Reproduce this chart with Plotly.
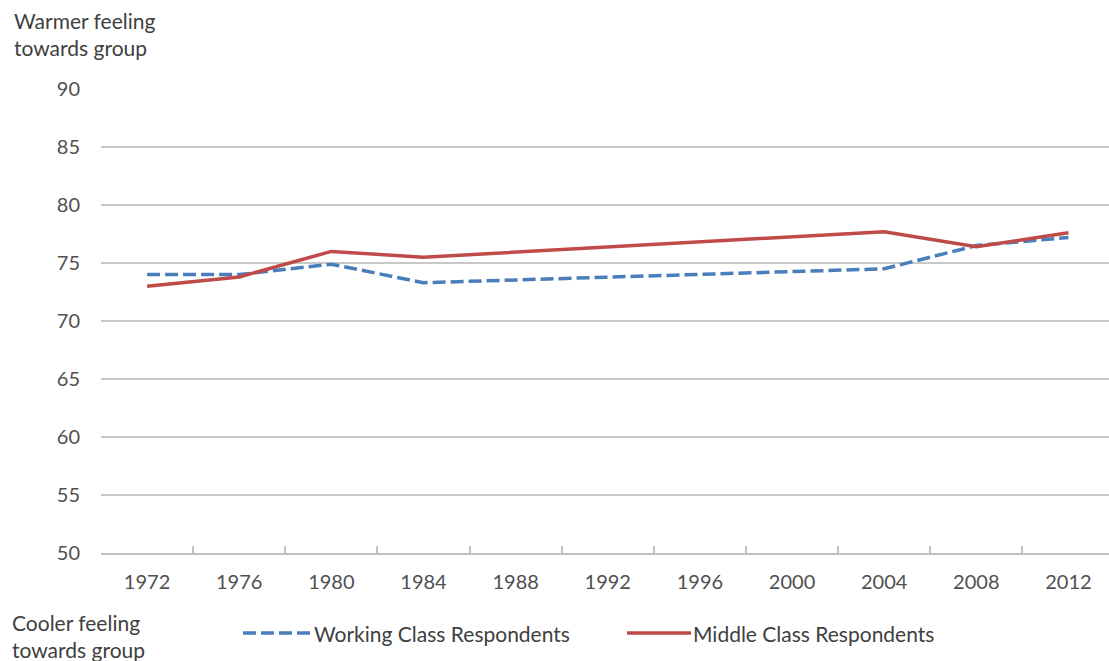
import plotly.graph_objects as go

# Survey years on the category axis
years = ["1972", "1976", "1980", "1984", "1988", "1992", "1996",
         "2000", "2004", "2008", "2012"]

# Mean feeling-thermometer ratings (no survey reading for 1988-2000)
working_class = [74.0, 74.0, 74.9, 73.3, None, None, None, None, 74.5, 76.5, 77.2]
middle_class = [73.0, 73.8, 76.0, 75.5, None, None, None, None, 77.7, 76.4, 77.6]

y_ticks = [50, 55, 60, 65, 70, 75, 80, 85, 90]

W, H = 1109, 661
M_L, M_R, M_T, M_B = 101, 0, 89, 108

BLUE = "#4a7ebb"
RED = "#be4b48"
TXT = "#404040"
FONT = "Lato"


def px_x(x):
    return (x - M_L) / (W - M_L - M_R)


def px_y(y):
    return (H - M_B - y) / (H - M_T - M_B)


fig = go.Figure()
fig.add_trace(go.Scatter(
    x=years, y=working_class, mode="lines", connectgaps=True,
    name="Working Class Respondents",
    line=dict(color=BLUE, width=3.5, dash="13px,5px"),
))
fig.add_trace(go.Scatter(
    x=years, y=middle_class, mode="lines", connectgaps=True,
    name="Middle Class Respondents",
    line=dict(color=RED, width=3.5),
))

fig.update_layout(
    width=W, height=H,
    margin=dict(l=M_L, r=M_R, t=M_T, b=M_B),
    paper_bgcolor="white", plot_bgcolor="white",
    showlegend=False,
    font=dict(family=FONT, size=20, color="#505050"),
)
fig.update_xaxes(
    type="category", range=[-0.5, 10.44],
    showgrid=False, zeroline=False,
    showline=True, linecolor="#bfbfbf", linewidth=1.5,
    tickson="boundaries", ticks="inside", ticklen=7,
    tickcolor="#bfbfbf", tickwidth=1.5,
    ticklabelstandoff=10,
)
fig.update_yaxes(
    range=[50, 90], tickvals=y_ticks,
    showgrid=True, gridcolor="#c8c8c8", gridwidth=1.5,
    zeroline=False, showline=False, ticks="",
    ticklabelstandoff=20,
)

# Axis end captions
fig.add_annotation(
    text="Warmer feeling<br>towards group", xref="paper", yref="paper",
    x=px_x(12), y=px_y(6), xanchor="left", yanchor="top", align="left",
    showarrow=False, font=dict(family=FONT, size=21, color=TXT),
)
fig.add_annotation(
    text="Cooler feeling<br>towards group", xref="paper", yref="paper",
    x=px_x(10), y=px_y(608), xanchor="left", yanchor="top", align="left",
    showarrow=False, font=dict(family=FONT, size=21, color=TXT),
)

# Legend drawn beneath the axis
legend_y = 633
fig.add_shape(type="line", xref="paper", yref="paper",
              x0=px_x(243), x1=px_x(311), y0=px_y(legend_y), y1=px_y(legend_y),
              line=dict(color=BLUE, width=3.5, dash="13px,5px"))
fig.add_annotation(
    text="Working Class Respondents", xref="paper", yref="paper",
    x=px_x(312), y=px_y(legend_y), xanchor="left", yanchor="middle",
    showarrow=False, font=dict(family=FONT, size=21, color=TXT),
)
fig.add_shape(type="line", xref="paper", yref="paper",
              x0=px_x(627), x1=px_x(691), y0=px_y(legend_y), y1=px_y(legend_y),
              line=dict(color=RED, width=3.5))
fig.add_annotation(
    text="Middle Class Respondents", xref="paper", yref="paper",
    x=px_x(691), y=px_y(legend_y), xanchor="left", yanchor="middle",
    showarrow=False, font=dict(family=FONT, size=21, color=TXT),
)

fig.write_html("out.html")
